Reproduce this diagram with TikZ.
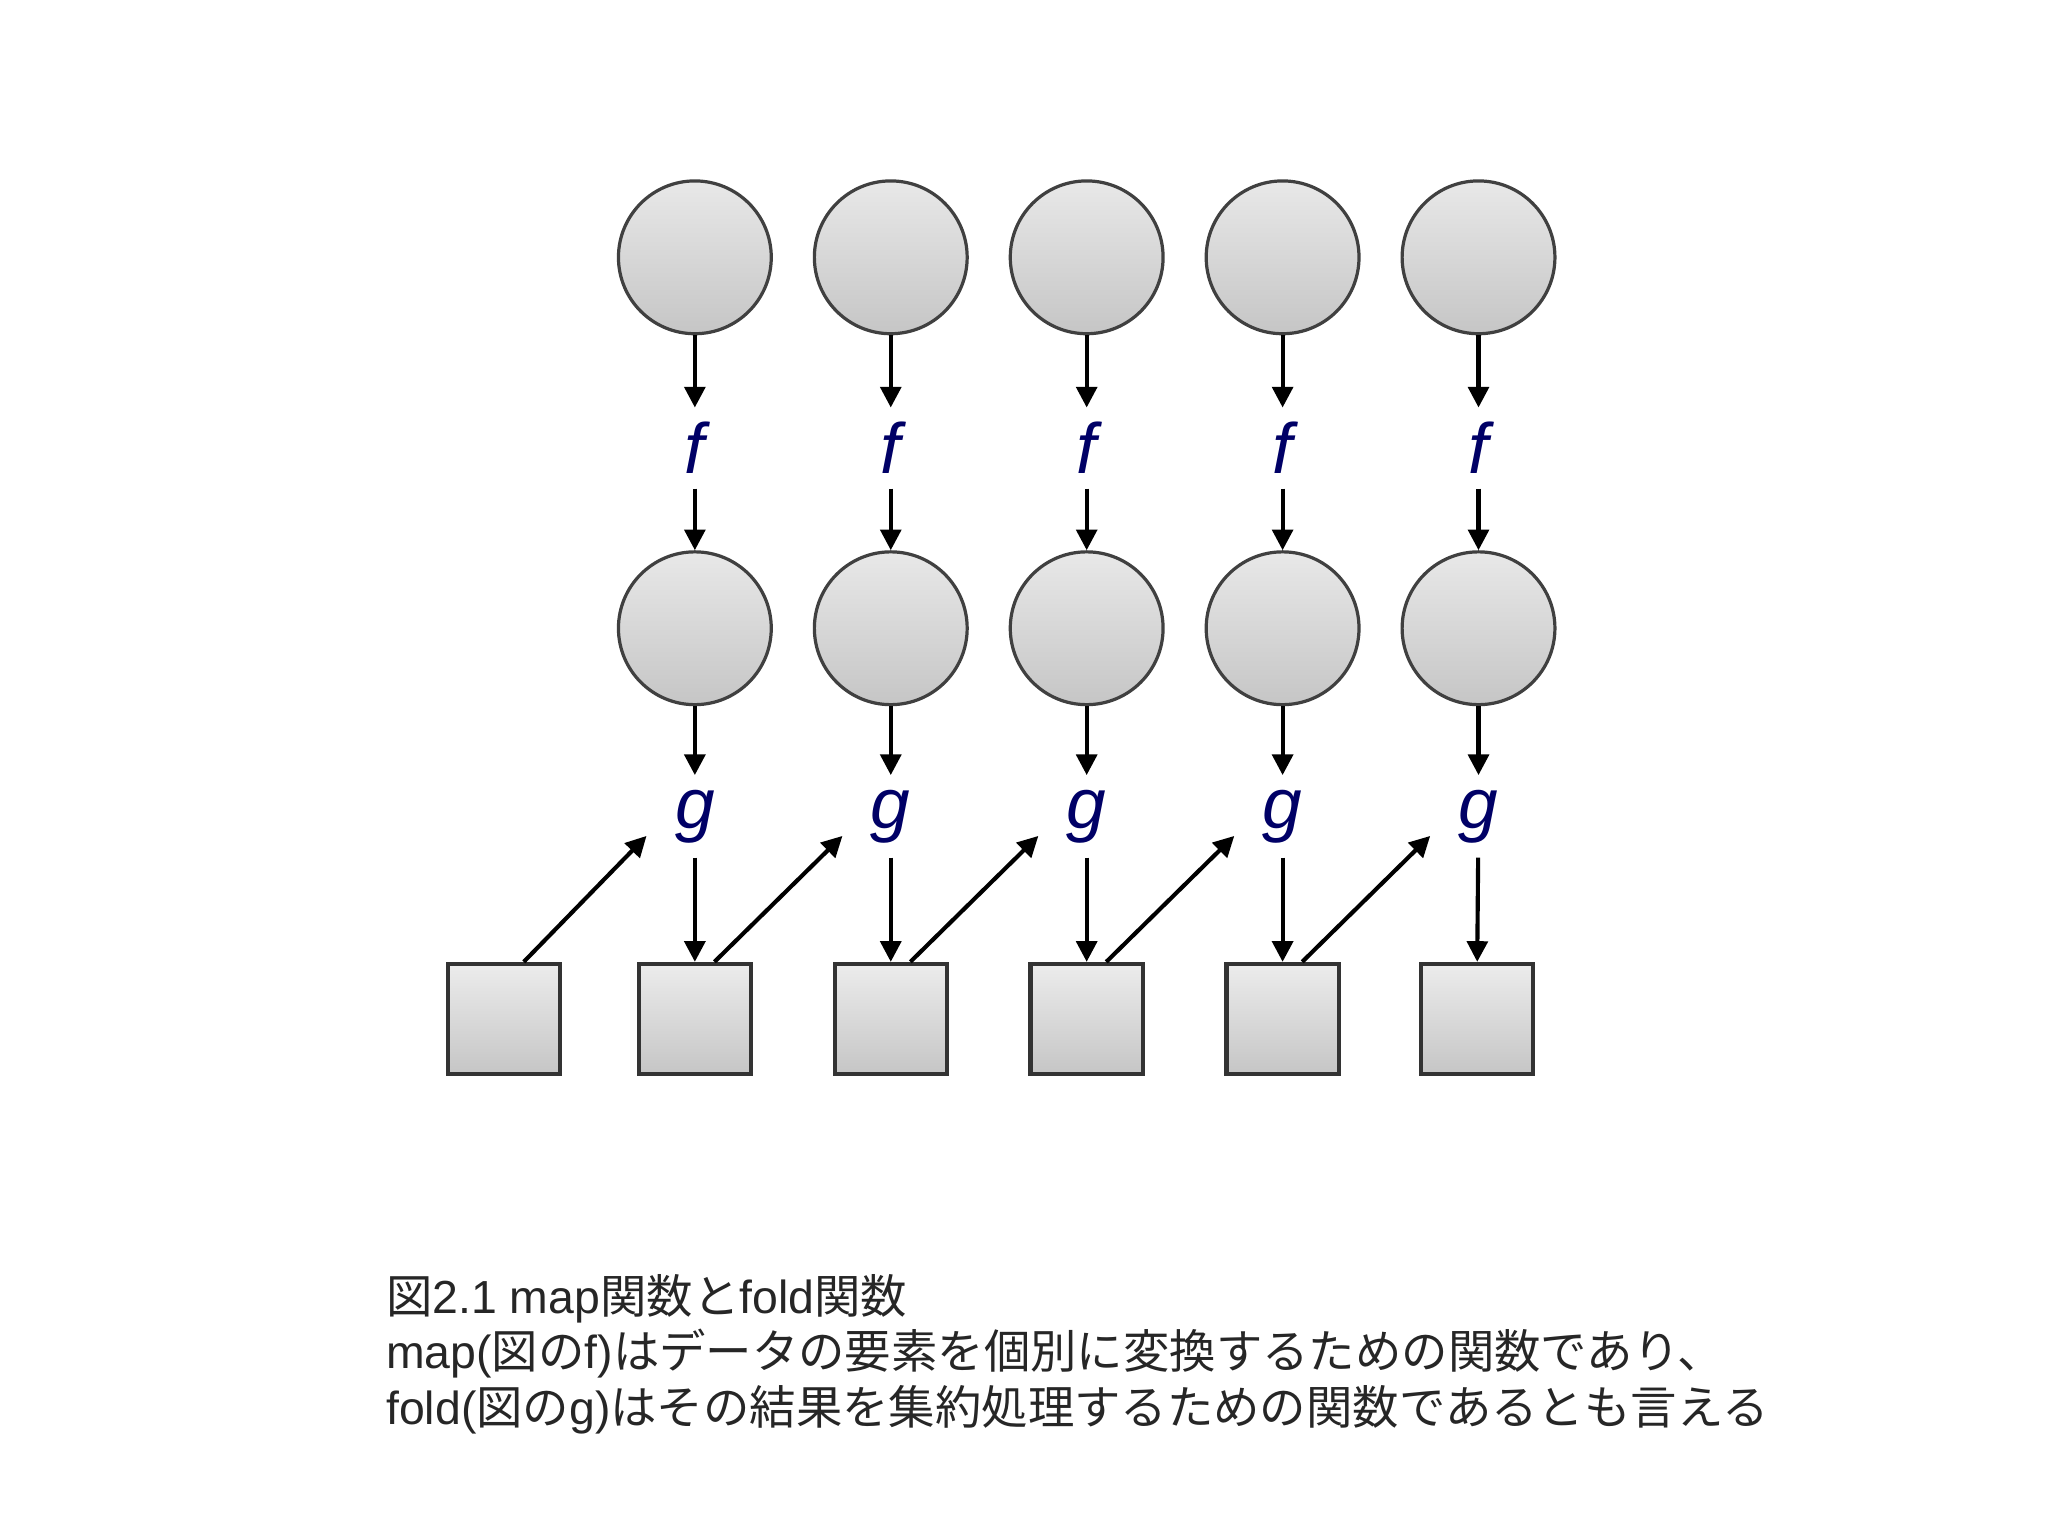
\documentclass[tikz,border=0pt]{standalone}
\usepackage{fontspec}
\setmainfont{Liberation Sans}
\newfontfamily\jp{Noto Sans CJK JP}
\usetikzlibrary{arrows.meta}
\newcommand{\J}[1]{{\jp #1}}
\begin{document}
\begin{tikzpicture}[x=0.01cm,y=-0.01cm,
  circ/.style={circle,draw=black!75,line width=0.7pt,minimum size=117*0.01cm,inner sep=0pt,top color=gray!18,bottom color=gray!45},
  sq/.style={rectangle,draw=black!80,line width=0.9pt,minimum width=86*0.01cm,minimum height=84*0.01cm,inner sep=0pt,top color=gray!15,bottom color=gray!45},
  fn/.style={font=\fontsize{15.5}{15.5}\selectfont\itshape,text=blue!40!black,inner sep=3pt},
  arr/.style={-{Triangle[length=4.5pt,width=4.5pt]},line width=0.9pt,black}]
\useasboundingbox (0,0) rectangle (1568,1175);
\foreach \i/\x in {1/532,2/682,3/832,4/982,5/1132}{
  \node[circ] (a\i) at (\x,197) {};
  \node[fn] (f\i) at (\x,343) {f};
  \node[circ] (b\i) at (\x,481) {};
  \node[fn] (g\i) at (\x,625) {g};
  \coordinate (e\i) at (\x-37,640);
  \draw[arr] (a\i) -- (f\i);
  \draw[arr] (f\i) -- (b\i);
  \draw[arr] (b\i) -- (g\i);
}
\foreach \i/\x in {0/386,1/532,2/682,3/832,4/982,5/1131}{
  \node[sq] (s\i) at (\x,780) {};
}
\foreach \i in {1,...,5}{ \draw[arr] (g\i) -- (s\i.north); }
\foreach \i/\j in {0/1,1/2,2/3,3/4,4/5}{
  \draw[arr] ([xshift=15*0.01cm]s\i.north) -- (e\j);
}
\node[anchor=north west,align=left,inner sep=0pt,font=\fontsize{10.1}{12.1}\selectfont,text=black!85] (cap) at (295,975)
{\J{図}2.1 map\J{関数と}fold\J{関数}\\
map(\J{図の}f)\J{はデータの要素を個別に変換するための関数であり、}\\
fold(\J{図の}g)\J{はその結果を集約処理するための関数であるとも言える}};
\end{tikzpicture}
\end{document}
